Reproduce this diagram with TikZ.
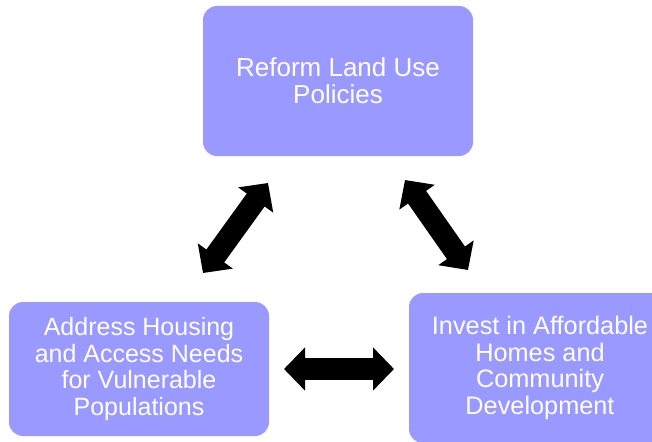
\documentclass[tikz,border=0pt]{standalone}
\usepackage{fontspec}
\setmainfont{Liberation Sans}
\usetikzlibrary{arrows.meta}
\definecolor{boxfill}{HTML}{9999FF}
\tikzset{
  box/.style={rectangle, rounded corners=14pt, fill=boxfill, text=white, align=center, inner sep=0pt},
  bigarrow/.style={line width=22pt, draw=black, {Triangle[width=42pt,length=21pt]}-{Triangle[width=42pt,length=21pt]}}
}
\begin{document}
\begin{tikzpicture}[x=1pt,y=-1pt]
\useasboundingbox (0,0) rectangle (652,441);
\begin{scope}
\clip (0,0) rectangle (652,441);
\node[box, minimum width=270pt, minimum height=150pt, font=\fontsize{26}{27.3}\selectfont] (top) at (338,81) {Reform Land Use\\Policies};
\node[box, minimum width=260pt, minimum height=134pt, font=\fontsize{25}{26.4}\selectfont] (left) at (139,369) {Address Housing\\and Access Needs\\for Vulnerable\\Populations};
\node[box, minimum width=262pt, minimum height=150pt, font=\fontsize{25.3}{26.6}\selectfont] (right) at (540,368) {Invest in Affordable\\Homes and\\Community\\Development};
\end{scope}
\coordinate (l1) at (203,273);
\coordinate (l2) at (268,183);
\coordinate (r1) at (405,180);
\coordinate (r2) at (468,270);
\coordinate (h1) at (284,369);
\coordinate (h2) at (394,369);
\draw[bigarrow] (l1) -- (l2);
\draw[bigarrow] (r1) -- (r2);
\draw[bigarrow] (h1) -- (h2);
\end{tikzpicture}
\end{document}
